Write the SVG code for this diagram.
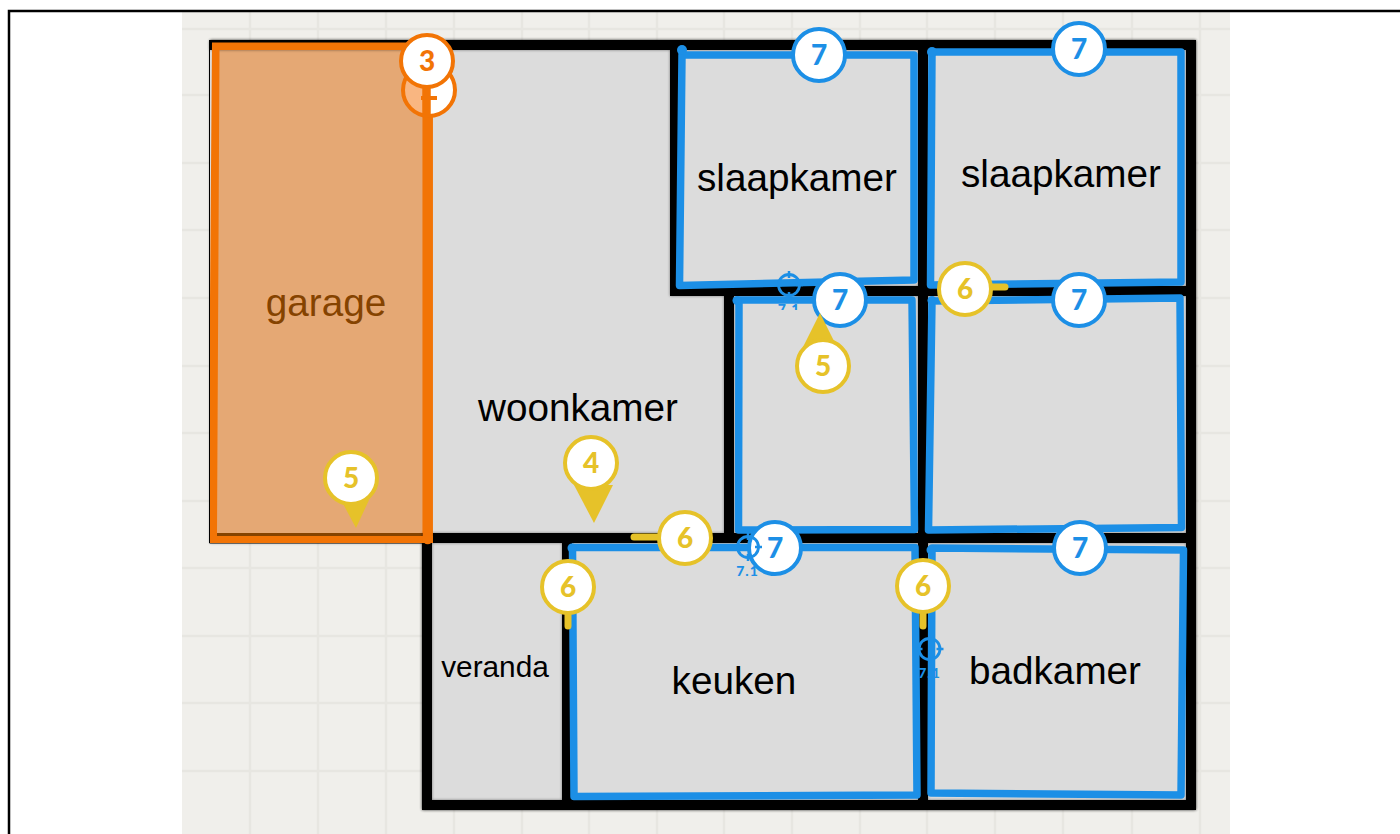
<svg xmlns="http://www.w3.org/2000/svg" width="1400" height="834" viewBox="0 0 1400 834">
<defs>
<filter id="s" x="-5%" y="-5%" width="110%" height="110%"><feGaussianBlur in="SourceAlpha" stdDeviation="1.6"/><feComponentTransfer><feFuncA type="linear" slope="0.45"/></feComponentTransfer><feMerge><feMergeNode/><feMergeNode in="SourceGraphic"/></feMerge></filter>
<clipPath id="c1"><rect x="770" y="290" width="40" height="20"/></clipPath>
<g id="tgt"><circle r="10.500" fill="none" stroke="#1c8fe6" stroke-width="2.800"/><path d="M0 -14V-7M0 14V7M-14 0H-7M14 0H7" stroke="#1c8fe6" stroke-width="2.500"/></g>
</defs>
<style>
.t{font-family:"Liberation Sans",Arial,sans-serif;fill:#000;text-anchor:middle;font-size:38.700px}
.n{font-family:Lato,"Open Sans",sans-serif;font-weight:900;font-size:28px;text-anchor:middle}
.l{font-family:Lato,"Open Sans",sans-serif;font-weight:900;font-size:14px;letter-spacing:1px;text-anchor:middle;fill:#1c8fe6}
.g{stroke:#e7e6e1;stroke-width:2.500;fill:none}
.w{stroke:#000;stroke-width:10;fill:none}
.b{stroke:#1c8fe6;stroke-width:7.500;fill:none;stroke-linejoin:round}
.cb{fill:#fff;stroke:#1c8fe6;stroke-width:4}
.cy{fill:#fff;stroke:#e6c229;stroke-width:4}
.co{fill:#fff;stroke:#f27405;stroke-width:4}
.tb{fill:#1c8fe6}.ty{fill:#e6c229}.to{fill:#f27405}
.dot{fill:#1c8fe6}
.yl{stroke:#e6c229;stroke-width:7;stroke-linecap:round;fill:none}
</style>
<rect width="1400" height="834" fill="#fff"/>
<rect x="182" y="12" width="1048" height="822" fill="#f0efeb"/>
<path class="g" d="M250 12V834M318 12V834M386 12V834M454 12V834M522 12V834M589 12V834M657 12V834M724 12V834M792 12V834M860 12V834M927 12V834M995 12V834M1063 12V834M1132 12V834M1200 12V834M182 29H1230M182 95H1230M182 163H1230M182 230H1230M182 298H1230M182 366H1230M182 433H1230M182 501H1230M182 568H1230M182 636H1230M182 703H1230M182 771H1230"/>
<path d="M9 834V11H1400" fill="none" stroke="#000" stroke-width="2.500"/>
<g id="floor" filter="url(#s)">
<path d="M210 40H1196V810H422V543H210Z" fill="#dcdcdc"/>
</g>
<g id="garage"><rect x="217" y="48" width="207" height="490" fill="#e5a874"/><path d="M217 534.500H424" stroke="#854300" stroke-width="3"/><text class="t" x="326" y="316" style="fill:#854300">garage</text></g>
<g id="woonkamer"><text class="t" x="578" y="421">woonkamer</text></g>
<g id="slaapkamer1"><text class="t" x="797" y="191">slaapkamer</text></g>
<g id="slaapkamer2"><text class="t" x="1061" y="187">slaapkamer</text></g>
<g id="veranda"><text class="t" x="495" y="677" style="font-size:29.800px">veranda</text></g>
<g id="keuken"><text class="t" x="734" y="694">keuken</text></g>
<g id="badkamer"><text class="t" x="1055" y="684">badkamer</text></g>
<g id="connectors">
<path class="w" filter="url(#s)" d="M210 45H1191V805H427V538H1191M567 538V805M923 45V805M675 45V291H1191M729 291V538"/>
<path d="M209.500 40V543H424" fill="none" stroke="#000" stroke-width="1"/>
<path d="M212 40H432V42H212Z" fill="#000"/>
<path d="M212 42.500H432V50H219.500L217 533V536H433V543H210V300Z" fill="#f27405"/>
<path d="M427.700 116V539" fill="none" stroke="#f27405" stroke-width="10.500" stroke-linecap="round"/>
<path class="b" d="M682 55H914L914 280L679.500 285.500Z"/>
<path class="b" d="M932 52H1181V282L930.500 285Z"/>
<path class="b" d="M739 300H912L914.500 529.500L738.500 530Z"/>
<path class="b" d="M932 301L1180 298L1181.500 527.500L928.500 530Z"/>
<path class="b" d="M572.500 547.500H915L917 795L574 796.500Z"/>
<path class="b" d="M932 548L1183.500 550L1181 795L931 793Z"/>
<circle class="dot" cx="682" cy="50" r="5"/><circle class="dot" cx="932" cy="52" r="5"/><circle class="dot" cx="737" cy="300.500" r="4.500"/><circle class="dot" cx="932" cy="300.500" r="4.500"/><circle class="dot" cx="572" cy="548" r="4.500"/><circle class="dot" cx="931" cy="550" r="4.500"/>
</g>
<g id="d2"><circle cx="429" cy="90" r="26" fill="#f9b681"/><path d="M429 64A26 26 0 0 1 429 116Z" fill="#fff"/><circle cx="429" cy="90" r="26" fill="none" stroke="#f27405" stroke-width="4"/><path d="M421 98H437" stroke="#f27405" stroke-width="4"/><path d="M426.500 85V116" stroke="#f27405" stroke-width="8.500"/></g>
<g id="d3"><circle class="co" cx="427" cy="61" r="26"/><text class="n to" x="427" y="71">3</text></g>
<g id="t1"><use href="#tgt" x="789" y="285"/><text class="l" x="789" y="314" clip-path="url(#c1)">7.1</text></g>
<g id="t3"><use href="#tgt" x="929.500" y="649"/><text class="l" x="929.500" y="678">7.1</text></g>
<g id="b1"><circle class="cb" cx="819" cy="55" r="26"/><text class="n tb" x="819" y="65">7</text></g>
<g id="b2"><circle class="cb" cx="1079" cy="49" r="26"/><text class="n tb" x="1079" y="59">7</text></g>
<g id="b3"><circle class="cb" cx="1079" cy="300" r="26"/><text class="n tb" x="1079" y="310">7</text></g>
<g id="b4"><circle class="cb" cx="1080" cy="548" r="26"/><text class="n tb" x="1080" y="558">7</text></g>
<g id="b5"><circle class="cb" cx="840" cy="300" r="26"/><text class="n tb" x="840" y="310">7</text></g>
<g id="b6"><circle cx="775" cy="548" r="26" class="cb"/><text class="n tb" x="775" y="558">7</text></g>
<g id="t2"><use href="#tgt" x="748" y="547"/><text class="l" x="747.500" y="576">7.1</text></g>
<g id="y5a"><path d="M803 347L820 313L836 345Z" fill="#e6c229"/><circle class="cy" cx="823" cy="366" r="26"/><text class="n ty" x="823" y="376">5</text></g>
<g id="y6a"><path class="yl" d="M1005 287H985"/><circle class="cy" cx="965" cy="289" r="26"/><text class="n ty" x="965" y="299">6</text></g>
<g id="y6b"><path class="yl" d="M634 537H660"/><circle class="cy" cx="685" cy="538" r="26"/><text class="n ty" x="685" y="548">6</text></g>
<g id="y6c"><path class="yl" d="M568 626V610"/><circle class="cy" cx="568" cy="587" r="26"/><text class="n ty" x="568" y="597">6</text></g>
<g id="y6d"><path class="yl" d="M923 626V610"/><circle class="cy" cx="923" cy="586" r="26"/><text class="n ty" x="923" y="596">6</text></g>
<g id="y4"><path d="M574 485H613L594 523Z" fill="#e6c229"/><circle class="cy" cx="591" cy="463" r="26"/><text class="n ty" x="591" y="473">4</text></g>
<g id="y5b"><path d="M341 500L356 528L369 500Z" fill="#e6c229"/><circle class="cy" cx="351" cy="478" r="26"/><text class="n ty" x="351" y="488">5</text></g>
</svg>
